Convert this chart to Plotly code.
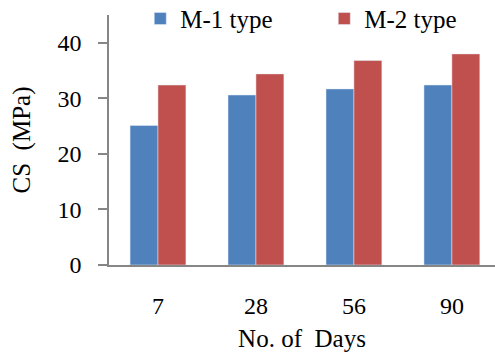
import plotly.graph_objects as go

days = ["7", "28", "56", "90"]
m1 = [25.1, 30.6, 31.7, 32.4]
m2 = [32.4, 34.4, 36.8, 38.0]
yticks = [0, 10, 20, 30, 40]

FONT = "Liberation Serif"

fig = go.Figure()
fig.add_trace(go.Bar(x=days, y=m1, name="M-1 type", marker_color="#4F81BD"))
fig.add_trace(go.Bar(x=days, y=m2, name="M-2 type", marker_color="#C0504D"))

fig.update_layout(
    width=495, height=354,
    margin=dict(l=109, r=0, t=15, b=89, autoexpand=False),
    paper_bgcolor="white", plot_bgcolor="white",
    font=dict(family=FONT, size=24, color="black"),
    barmode="group", bargap=0.43, bargroupgap=0,
    showlegend=True,
    legend=dict(orientation="h", x=0.081, y=0.985, xanchor="left", yanchor="middle",
                font=dict(family=FONT, size=25, color="black"), entrywidth=139, entrywidthmode="pixels",
                itemwidth=30, bgcolor="rgba(0,0,0,0)", traceorder="normal"),
)
fig.update_xaxes(
    type="category", range=[-0.5, 3.44], showline=True, linecolor="#868686", linewidth=1.5,
    ticks="", showgrid=False, tickfont=dict(family=FONT, size=24, color="black"), ticklabelstandoff=18,
    title=dict(text="No. of  Days", font=dict(family=FONT, size=25, color="black"), standoff=12),
)
fig.update_yaxes(
    range=[0, 45], tickvals=yticks, showline=True, linecolor="#868686", linewidth=1.5,
    ticks="outside", ticklen=9, tickcolor="#868686", tickwidth=1.5, showgrid=False,
    zeroline=False, tickfont=dict(family=FONT, size=24, color="black"), ticklabelstandoff=12,
    title=dict(text="CS  (MPa)", font=dict(family=FONT, size=25, color="black"), standoff=20),
)
fig.write_html("out.html")
